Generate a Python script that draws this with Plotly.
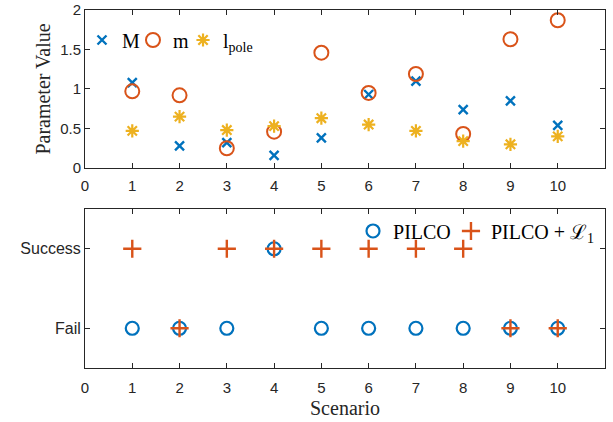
import plotly.graph_objects as go
from plotly.subplots import make_subplots

scenarios = [1, 2, 3, 4, 5, 6, 7, 8, 9, 10]
M_vals = [1.08, 0.28, 0.32, 0.16, 0.38, 0.93, 1.10, 0.74, 0.85, 0.54]
m_vals = [0.97, 0.92, 0.25, 0.46, 1.46, 0.95, 1.19, 0.43, 1.63, 1.87]
lpole_vals = [0.47, 0.65, 0.48, 0.53, 0.63, 0.55, 0.47, 0.34, 0.30, 0.40]
pilco = [0, 0, 0, 1, 0, 0, 0, 0, 0, 0]
pilco_l1 = [1, 0, 1, 1, 1, 1, 1, 1, 0, 0]
outcome_labels = ["Fail", "Success"]

BLUE = "#0072BD"
ORANGE = "#D95319"
YELLOW = "#EDB120"
AX = "#262626"
SERIF = "Liberation Serif, Times New Roman, serif"
SANS = "Liberation Sans, Arial, sans-serif"

fig = make_subplots(rows=2, cols=1, shared_xaxes=False, vertical_spacing=0.0)

fig.add_trace(go.Scatter(x=scenarios, y=M_vals, mode="markers", name="M",
                         marker=dict(symbol="x-thin-open", size=9, color=BLUE,
                                     line=dict(width=2.4, color=BLUE)),
                         legend="legend", showlegend=True), row=1, col=1)
fig.add_trace(go.Scatter(x=scenarios, y=m_vals, mode="markers", name="m",
                         marker=dict(symbol="circle-open", size=14, color=ORANGE,
                                     line=dict(width=2, color=ORANGE)),
                         legend="legend2", showlegend=True), row=1, col=1)
fig.add_trace(go.Scatter(x=scenarios, y=lpole_vals, mode="markers", name="l<sub>pole</sub>",
                         marker=dict(symbol="asterisk-open", size=11, color=YELLOW,
                                     line=dict(width=2.2, color=YELLOW)),
                         legend="legend3", showlegend=True), row=1, col=1)

fig.add_trace(go.Scatter(x=scenarios, y=pilco, mode="markers", name="PILCO",
                         marker=dict(symbol="circle-open", size=13, color=BLUE,
                                     line=dict(width=2.2, color=BLUE)),
                         legend="legend4", showlegend=True), row=2, col=1)
fig.add_trace(go.Scatter(x=scenarios, y=pilco_l1, mode="markers", name="PILCO + ℒ<sub>1</sub>",
                         marker=dict(symbol="cross-thin-open", size=13, color=ORANGE,
                                     line=dict(width=2.4, color=ORANGE)),
                         legend="legend5", showlegend=True), row=2, col=1)

axis_common = dict(showline=True, linecolor=AX, linewidth=1, mirror="ticks",
                   ticks="inside", ticklen=5, tickcolor=AX, showgrid=False, zeroline=False,
                   automargin=False, ticklabeloverflow="allow",
                   tickfont=dict(family=SANS, size=15, color=AX))

fig.update_xaxes(range=[0, 11], tickvals=list(range(0, 11)), ticklabelstandoff=4, **axis_common)
fig.update_yaxes(**axis_common)

fig.update_xaxes(domain=[0, 1], row=1, col=1)
fig.update_xaxes(domain=[0, 1], row=2, col=1, ticklabelstandoff=6,
                 title=dict(text="Scenario", standoff=5,
                            font=dict(family=SERIF, size=20, color=AX)))
fig.update_yaxes(domain=[0.5587, 1.0], range=[0, 2], tickvals=[0, 0.5, 1, 1.5, 2],
                 ticktext=["0", "0.5", "1", "1.5", "2"], row=1, col=1,
                 title=dict(text="Parameter Value", standoff=4,
                            font=dict(family=SERIF, size=20, color=AX)))
fig.update_yaxes(domain=[0.0, 0.4441], range=[-0.5, 1.5], tickvals=[0, 1],
                 ticktext=outcome_labels, tickfont=dict(family=SANS, size=16, color=AX),
                 row=2, col=1)

def leg(x, y):
    return dict(orientation="h", x=x, y=y, xref="paper", yref="paper",
                xanchor="left", yanchor="middle", bgcolor="rgba(0,0,0,0)",
                borderwidth=0, itemwidth=30,
                font=dict(family=SERIF, size=20, color="black"))

fig.update_layout(
    width=613, height=422,
    margin=dict(l=85, r=8, t=10, b=54),
    paper_bgcolor="white", plot_bgcolor="white",
    showlegend=True,
    legend=leg(-0.0058, 0.9162),
    legend2=leg(0.0923, 0.9162),
    legend3=leg(0.1885, 0.9162),
    legend4=leg(0.5154, 0.3827),
    legend5=leg(0.7038, 0.3827),
)

# remove the browser's default 8px body margin so the figure sits at the page origin
fig.write_html("out.html",
               config={"displayModeBar": False},
               post_script="document.body.style.margin='0px';document.body.style.overflow='hidden';")
